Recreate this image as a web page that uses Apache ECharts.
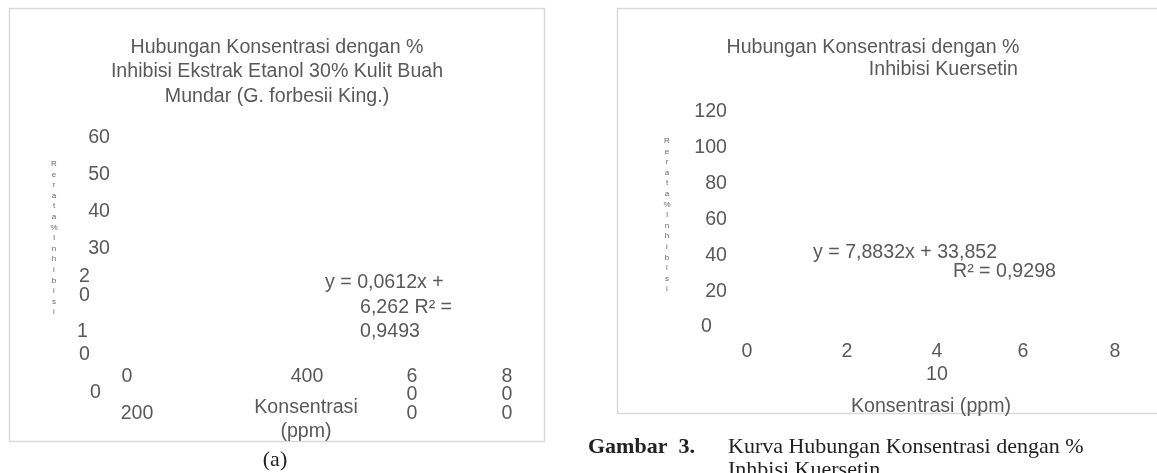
<!DOCTYPE html>
<html>
<head>
<meta charset="utf-8">
<script src="https://cdn.jsdelivr.net/npm/echarts@6/dist/echarts.min.js"></script>
<style>
  html, body { margin: 0; padding: 0; background: #fff; }
  #chart { width: 1157px; height: 473px; }
</style>
</head>
<body>
<div id="chart"></div>
<script>
// (a) ekstrak etanol 30% kulit buah mundar
const titleA = ['Hubungan Konsentrasi dengan %', 'Inhibisi Ekstrak Etanol 30% Kulit Buah', 'Mundar (G. forbesii King.)'];
const yTicksA = [0, 10, 20, 30, 40, 50, 60];
const xTicksA = [0, 200, 400, 600, 800];
const eqA = ['y = 0,0612x +', '6,262 R² =', '0,9493'];
const xNameA = 'Konsentrasi\n(ppm)';
// kuersetin
const titleB = ['Hubungan Konsentrasi dengan %', 'Inhibisi Kuersetin'];
const yTicksB = [0, 20, 40, 60, 80, 100, 120];
const xTicksB = [0, 2, 4, 6, 8, 10];
const eqB = ['y = 7,8832x + 33,852', 'R² = 0,9298'];
const xNameB = 'Konsentrasi (ppm)';
const yName = 'Rerata % Inhibisi';
const captionA = '(a)';
const captionB = ['Gambar  3.', 'Kurva Hubungan Konsentrasi dengan %', 'Inhbisi Kuersetin'];

const GREY = '#595959';
const SANS = 'Liberation Sans';
const SERIF = 'Liberation Serif';
const FS = 19.6;

const chart = echarts.init(document.getElementById('chart'));

const tok = (extra) => Object.assign({ fontSize: FS, fontFamily: SANS, color: GREY }, extra);

function text(str, x, y, extra) {
  return {
    type: 'text', x: x, y: y, silent: true,
    style: Object.assign({
      text: str, fill: GREY, fontSize: FS, fontFamily: SANS,
      align: 'left', verticalAlign: 'middle'
    }, extra)
  };
}

// stacked tiny letters of the y axis title
const stacked = yName.replace(/ /g, '').split('').join('\n');

const hidden = { show: false };

const option = {
  backgroundColor: '#fff',
  animation: false,
  grid: [
    { left: 127, top: 138, width: 380, height: 222 },
    { left: 747, top: 112, width: 368, height: 215 }
  ],
  xAxis: [
    {
      type: 'value', gridIndex: 0,
      min: xTicksA[0], max: xTicksA[xTicksA.length - 1], interval: 200,
      axisLine: hidden, axisTick: hidden, splitLine: hidden,
      axisLabel: {
        margin: 7,
        formatter: (v) => {
          const s = String(v);
          if (v === 200) return '{lo|' + s + '}';
          if (v === 400) return '{l4|' + s + '}';
          if (v >= 600) return s.split('').map(c => '{n|' + c + '}').join('\n');
          return '{n|' + s + '}';
        },
        rich: {
          n: tok({ lineHeight: 18.5 }),
          l4: tok({ lineHeight: 18.5, padding: [0, 20, 0, 0] }),
          lo: tok({ padding: [36.5, 170, 0, 0] })
        }
      },
      name: xNameA, nameLocation: 'middle', nameGap: 35, nameMoveOverlap: false,
      nameTextStyle: { fontSize: FS, fontFamily: SANS, color: GREY, lineHeight: 24.5, padding: [0, 22, 0, 0] }
    },
    {
      type: 'value', gridIndex: 1,
      min: xTicksB[0], max: 8, interval: 2,
      axisLine: hidden, axisTick: hidden, splitLine: hidden,
      axisLabel: {
        margin: 13.5,
        formatter: (v) => {
          if (v === 2) return '{p2|' + v + '}';
          // the last tick label wraps under "4"
          if (v === 4) return '{p4|' + v + '}\n{p4|' + xTicksB[xTicksB.length - 1] + '}';
          return '{n|' + v + '}';
        },
        rich: {
          n: tok({ lineHeight: 23 }),
          p2: tok({ lineHeight: 23, padding: [0, 0, 0, 16] }),
          p4: tok({ lineHeight: 23, padding: [0, 0, 0, 12] })
        }
      },
      name: xNameB, nameLocation: 'middle', nameGap: 68, nameMoveOverlap: false,
      nameTextStyle: { fontSize: FS, fontFamily: SANS, color: GREY, lineHeight: 24 }
    }
  ],
  yAxis: [
    {
      type: 'value', gridIndex: 0,
      min: yTicksA[0], max: yTicksA[yTicksA.length - 1], interval: 10,
      axisLine: hidden, axisTick: hidden, splitLine: hidden,
      axisLabel: {
        margin: 17,
        formatter: (v) => {
          const s = String(v);
          if (v === 20) return '{w|' + s[0] + '}\n{w|' + s[1] + '}';
          if (v === 10) return '{t|' + s[0] + '}\n{u|' + s[1] + '}';
          if (v === 0) return '{z|' + s + '}';
          return '{n|' + s + '}';
        },
        rich: {
          n: tok({}),
          w: tok({ lineHeight: 18.5, padding: [0, 20, 0, 0] }),
          t: tok({ padding: [44, 22, 0, 0] }),
          u: tok({ lineHeight: 26, padding: [0, 20, 0, 0] }),
          z: tok({ padding: [66, 9, 0, 0] })
        }
      }
    },
    {
      type: 'value', gridIndex: 1,
      min: yTicksB[0], max: yTicksB[yTicksB.length - 1], interval: 20,
      axisLine: hidden, axisTick: hidden, splitLine: hidden,
      axisLabel: {
        margin: 20,
        formatter: (v) => (v === 0 ? '{z|' + v + '}' : '{n|' + v + '}'),
        rich: {
          n: tok({}),
          z: tok({ padding: [0, 15, 0, 0] })
        }
      }
    }
  ],
  series: [
    { type: 'scatter', xAxisIndex: 0, yAxisIndex: 0, data: [] },
    { type: 'scatter', xAxisIndex: 1, yAxisIndex: 1, data: [] }
  ],
  graphic: [
    // chart area borders
    { type: 'rect', silent: true, shape: { x: 9.5, y: 8.5, width: 535, height: 433 },
      style: { fill: 'none', stroke: '#d9d9d9', lineWidth: 1.5 } },
    { type: 'rect', silent: true, shape: { x: 617.5, y: 8.5, width: 560, height: 405 },
      style: { fill: 'none', stroke: '#d9d9d9', lineWidth: 1.5 } },

    // titles
    text(titleA[0], 277, 48, { align: 'center' }),
    text(titleA[1], 277, 72, { align: 'center' }),
    text(titleA[2], 277, 97, { align: 'center' }),
    text(titleB[0], 873, 48, { align: 'center' }),
    text(titleB[1], 1018, 70, { align: 'right' }),

    // y axis names
    text(stacked, 54, 238, { align: 'center', fontSize: 8, lineHeight: 10.6, fill: '#666' }),
    text(stacked, 667, 215, { align: 'center', fontSize: 8, lineHeight: 10.6, fill: '#666' }),

    // trendline equations
    text(eqA[0], 325, 283),
    text(eqA[1], 360, 308),
    text(eqA[2], 360, 332),
    text(eqB[0], 813, 253),
    text(eqB[1], 953, 272),

    // captions
    text(captionA, 275, 460, { align: 'center', fontFamily: SERIF, fontSize: 22, fill: '#222' }),
    text(captionB[0], 588, 447, { fontFamily: SERIF, fontSize: 22, fontWeight: 'bold', fill: '#222' }),
    text(captionB[1], 728, 447, { fontFamily: SERIF, fontSize: 22, fill: '#222' }),
    text(captionB[2], 728, 470, { fontFamily: SERIF, fontSize: 22, fill: '#222' })
  ]
};

chart.setOption(option);
</script>
</body>
</html>
